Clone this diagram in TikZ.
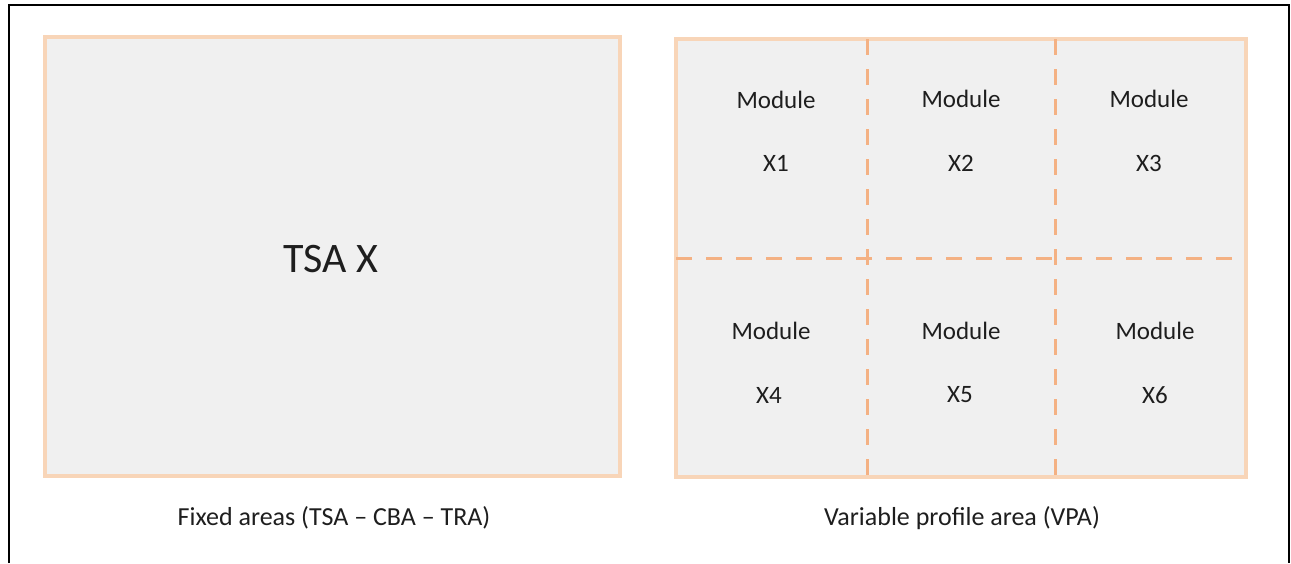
\documentclass[tikz,border=0pt]{standalone}
\usepackage{fontspec}
\setmainfont{Carlito}
\definecolor{peach}{HTML}{F8D5B8}
\definecolor{dashor}{HTML}{F4B183}
\definecolor{boxfill}{HTML}{F0F0F0}
\definecolor{txt}{HTML}{1E1E1E}
\tikzset{
  area/.style={draw=peach, fill=boxfill, line width=4pt},
  divider/.style={draw=dashor, line width=3pt, dash pattern=on 16pt off 14pt},
  modtext/.style={text=txt, font=\fontsize{25}{30}\selectfont, inner sep=0pt},
  captext/.style={text=txt, font=\fontsize{26}{31}\selectfont, inner sep=0pt},
  bigtext/.style={text=txt, font=\fontsize{42}{50}\selectfont, inner sep=0pt},
}
\begin{document}
\begin{tikzpicture}[x=1pt,y=-1pt]
\useasboundingbox (0,0) rectangle (1291,563);
\fill[white] (0,0) rectangle (1291,563);
% outer frame
\draw[black, line width=2pt] (9,563) -- (9,5) -- (1289,5) -- (1289,563);
% left area
\path[area] (45,37) rectangle (620,476);
\node[bigtext] (tsa) at (331,259) {TSA X};
\node[captext] (fixcap) at (334,518) {Fixed areas (TSA – CBA – TRA)};
% right area
\path[area] (676,39) rectangle (1246,477);
\coordinate (v1t) at (867,39); \coordinate (v1b) at (867,477);
\coordinate (v2t) at (1055,39); \coordinate (v2b) at (1055,477);
\coordinate (hl) at (676,258); \coordinate (hr) at (1246,258);
\draw[divider] (v1t) -- (v1b);
\draw[divider] (v2t) -- (v2b);
\draw[divider] (hl) -- (hr);
\node[modtext] (m1) at (776,100) {Module};
\node[modtext] (x1) at (776,163) {X1};
\node[modtext] (m2) at (961,99) {Module};
\node[modtext] (x2) at (961,163) {X2};
\node[modtext] (m3) at (1149,99) {Module};
\node[modtext] (x3) at (1149,163) {X3};
\node[modtext] (m4) at (771,331) {Module};
\node[modtext] (x4) at (769,395) {X4};
\node[modtext] (m5) at (961,331) {Module};
\node[modtext] (x5) at (960,395) {X5};
\node[modtext] (m6) at (1155,331) {Module};
\node[modtext] (x6) at (1155,395) {X6};
\node[captext] (vpacap) at (962,518) {Variable profile area (VPA)};
\end{tikzpicture}
\end{document}
